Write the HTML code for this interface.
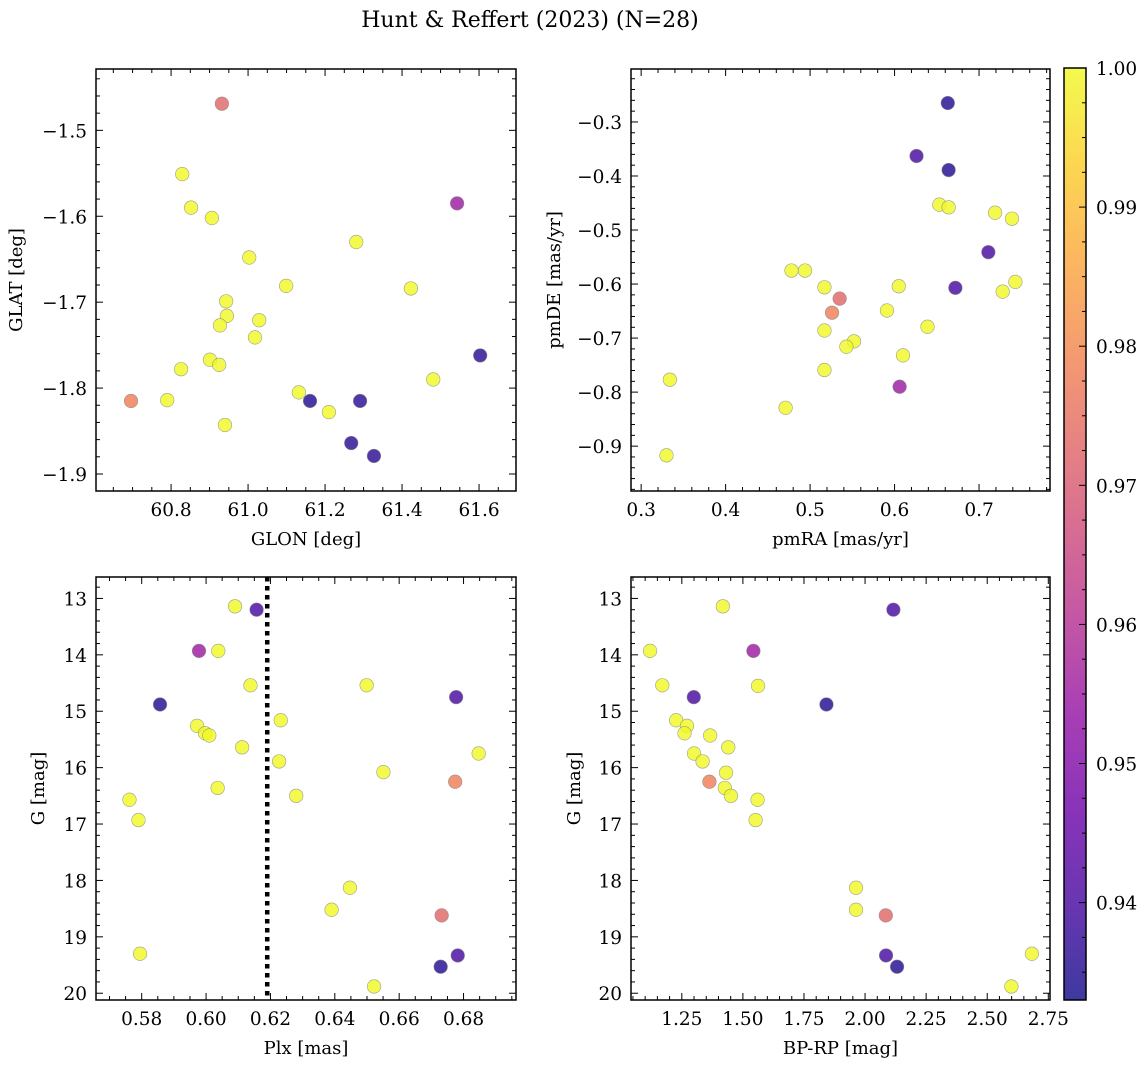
<!DOCTYPE html>
<html><head><meta charset="utf-8"><style>
html,body{margin:0;padding:0;background:#fff;}
svg{display:block;font-family:"DejaVu Serif","Liberation Serif",serif;}
</style></head><body>
<svg id="fig" width="1148" height="1068" viewBox="0 0 1148 1068" xmlns="http://www.w3.org/2000/svg">
<text x="530" y="27" font-size="22" text-anchor="middle">Hunt &amp; Reffert (2023) (N=28)</text>
</svg>
<script>
// Panel 1: GLON vs GLAT
const glon = [60.932,60.829,60.852,60.906,61.003,61.281,61.543,61.099,61.423,60.943,60.945,61.029,60.927,61.018,61.603,60.901,60.925,60.826,61.481,60.696,60.790,61.132,61.161,61.291,61.210,60.940,61.268,61.327];
const glat = [-1.469,-1.551,-1.590,-1.602,-1.648,-1.630,-1.585,-1.681,-1.684,-1.699,-1.716,-1.721,-1.727,-1.741,-1.762,-1.767,-1.773,-1.778,-1.790,-1.815,-1.814,-1.805,-1.815,-1.815,-1.828,-1.843,-1.864,-1.879];
const prob1 = [0.973,1,1,1,1,1,0.955,1,1,1,1,1,1,1,0.936,1,1,1,1,0.978,1,1,0.935,0.936,1,1,0.936,0.936];
// Panel 2: pmRA vs pmDE
const pmra = [0.663,0.626,0.664,0.653,0.664,0.719,0.739,0.711,0.672,0.743,0.728,0.605,0.478,0.494,0.517,0.535,0.526,0.591,0.517,0.552,0.543,0.639,0.610,0.517,0.606,0.334,0.471,0.330];
const pmde = [-0.265,-0.363,-0.389,-0.453,-0.458,-0.468,-0.479,-0.541,-0.607,-0.596,-0.614,-0.604,-0.575,-0.575,-0.606,-0.627,-0.653,-0.649,-0.686,-0.706,-0.716,-0.679,-0.732,-0.759,-0.790,-0.777,-0.829,-0.917];
const prob2 = [0.935,0.94,0.935,1,1,1,1,0.94,0.94,1,1,1,1,1,1,0.973,0.978,1,1,1,1,1,1,1,0.955,1,1,1];
// Panel 3: Plx vs G
const plx = [0.6090,0.6157,0.5978,0.6038,0.6138,0.6499,0.6777,0.5857,0.6232,0.5972,0.5997,0.6010,0.6112,0.6847,0.6227,0.6551,0.6774,0.6036,0.6280,0.5762,0.5790,0.6447,0.6390,0.6732,0.5795,0.6782,0.6729,0.6522];
const gmag3 = [13.14,13.20,13.93,13.93,14.54,14.54,14.75,14.88,15.16,15.26,15.39,15.43,15.64,15.75,15.89,16.08,16.25,16.36,16.50,16.57,16.93,18.13,18.52,18.62,19.30,19.33,19.53,19.88];
const prob3 = [1,0.94,0.955,1,1,1,0.94,0.935,1,1,1,1,1,1,1,1,0.978,1,1,1,1,1,1,0.973,1,0.94,0.935,1];
const plxCut = [0.619];
// Panel 4: BP-RP vs G
const bprp = [1.418,2.116,1.120,1.543,1.170,1.562,1.299,1.842,1.227,1.271,1.261,1.366,1.440,1.300,1.335,1.431,1.363,1.426,1.451,1.560,1.552,1.963,1.963,2.085,2.683,2.086,2.131,2.599];
const gmag4 = [13.14,13.20,13.93,13.93,14.54,14.55,14.75,14.88,15.16,15.26,15.39,15.43,15.64,15.75,15.89,16.09,16.25,16.36,16.50,16.57,16.93,18.13,18.52,18.62,19.30,19.33,19.53,19.88];
const prob4 = [1,0.94,1,0.955,1,1,0.94,0.935,1,1,1,1,1,1,1,1,0.978,1,1,1,1,1,1,0.973,1,0.94,0.935,1];
// Tick labels
const ticks1x = [60.8,61.0,61.2,61.4,61.6];
const ticks1y = [-1.5,-1.6,-1.7,-1.8,-1.9];
const ticks2x = [0.3,0.4,0.5,0.6,0.7];
const ticks2y = [-0.3,-0.4,-0.5,-0.6,-0.7,-0.8,-0.9];
const ticks3x = [0.58,0.60,0.62,0.64,0.66,0.68];
const ticksG = [13,14,15,16,17,18,19,20];
const ticks4x = [1.25,1.50,1.75,2.00,2.25,2.50,2.75];
const ticksCb = [1.00,0.99,0.98,0.97,0.96,0.95,0.94];

const NS = "http://www.w3.org/2000/svg";
const svg = document.getElementById('fig');
function mk(tag, attrs, parent){ const e=document.createElementNS(NS,tag); for(const k in attrs) e.setAttribute(k,attrs[k]); (parent||svg).appendChild(e); return e; }

const plasmaHex = ['#0d0887','#41049d','#6a00a8','#8f0da4','#b12a90','#cc4778','#e16462','#f2844b','#fca636','#fcce25','#f0f921'];
const plasmaRGB = plasmaHex.map(h=>[parseInt(h.slice(1,3),16),parseInt(h.slice(3,5),16),parseInt(h.slice(5,7),16)]);
function plasma(t){ t=Math.max(0,Math.min(1,t)); const f=t*10; const i=Math.min(9,Math.floor(f)); const r=f-i; const a=plasmaRGB[i], b=plasmaRGB[i+1];
  return `rgb(${Math.round(a[0]+r*(b[0]-a[0]))},${Math.round(a[1]+r*(b[1]-a[1]))},${Math.round(a[2]+r*(b[2]-a[2]))})`; }
const cmin=0.933, cmax=1.0;
const cnorm = v => (v-cmin)/(cmax-cmin);

function fmt(v,d){ const s=Math.abs(v).toFixed(d); return (v<0?'\u2212':'')+s; }
const TF=18.5, LF=18;

function panel(o){
  const {name,L,R,T,B,xmin,xmax,ymin,ymax,xt,yt,xd,yd,xminor,yminor,xlabel,ylabel,xs,ys,ps,invert,ylabX} = o;
  const g = mk('g',{});
  
  
  const X = v => L + (v-xmin)/(xmax-xmin)*(R-L);
  const Y = invert ? (v => T + (v-ymin)/(ymax-ymin)*(B-T)) : (v => B - (v-ymin)/(ymax-ymin)*(B-T));
  const tg = mk('g',{stroke:'#000','stroke-width':1},g);
  
  
  const eps=1e-9;
  const x0=Math.ceil(xmin/xminor-eps), x1=Math.floor(xmax/xminor+eps);
  for(let i=x0;i<=x1;i++){ const v=i*xminor; const major=xt.some(t=>Math.abs(t-v)<xminor*0.1); const len=major?7:4; const px=X(v);
    mk('line',{x1:px,y1:B,x2:px,y2:B-len},tg); mk('line',{x1:px,y1:T,x2:px,y2:T+len},tg); }
  const lo=Math.min(ymin,ymax), hi=Math.max(ymin,ymax);
  const y0=Math.ceil(lo/yminor-eps), y1=Math.floor(hi/yminor+eps);
  for(let i=y0;i<=y1;i++){ const v=i*yminor; const major=yt.some(t=>Math.abs(t-v)<yminor*0.1); const len=major?7:4; const py=Y(v);
    mk('line',{x1:L,y1:py,x2:L+len,y2:py},tg); mk('line',{x1:R,y1:py,x2:R-len,y2:py},tg); }
  xt.forEach(v=>{ const t=mk('text',{x:X(v),y:B+25,'font-size':TF,'text-anchor':'middle'},g); t.textContent=fmt(v,xd);
    
     });
  yt.forEach(v=>{ const t=mk('text',{x:L-9,y:Y(v)+7,'font-size':TF,'text-anchor':'end'},g); t.textContent=fmt(v,yd);
    
     });
  const xl=mk('text',{x:(L+R)/2,y:B+54,'font-size':LF,'text-anchor':'middle'},g); xl.textContent=xlabel;
  
  
  const ym=(T+B)/2;
  const yl=mk('text',{x:ylabX,y:ym,'font-size':LF,'text-anchor':'middle',transform:`rotate(-90 ${ylabX} ${ym})`},g); yl.textContent=ylabel;
  
  
  if(o.vline){ const ln=mk('line',{x1:X(o.vline[0]),x2:X(o.vline[0]),y1:T,y2:B,stroke:'#000','stroke-width':4.5,'stroke-dasharray':'4.5 4.5'},g);
    
     }
  const pg=mk('g',{},g);
  xs.forEach((xv,i)=>{ const c=mk('circle',{cx:X(xv),cy:Y(ys[i]),r:6.8,fill:plasma(cnorm(ps[i])),'fill-opacity':0.8,stroke:'#888','stroke-opacity':0.8,'stroke-width':0.6},pg);
    
     });
  const fr=mk('rect',{x:L,y:T,width:R-L,height:B-T,fill:'none',stroke:'#000','stroke-width':1.5},g);
  
  
}

panel({name:'glon-glat-panel',L:96,R:516,T:69,B:491,xmin:60.605,xmax:61.696,ymin:-1.9198,ymax:-1.4286,xt:ticks1x,yt:ticks1y,xd:1,yd:1,xminor:0.05,yminor:0.02,xlabel:'GLON [deg]',ylabel:'GLAT [deg]',xs:glon,ys:glat,ps:prob1,ylabX:22});
panel({name:'pm-panel',L:631,R:1050,T:69,B:491,xmin:0.288,xmax:0.784,ymin:-0.983,ymax:-0.202,xt:ticks2x,yt:ticks2y,xd:1,yd:1,xminor:0.02,yminor:0.02,xlabel:'pmRA [mas/yr]',ylabel:'pmDE [mas/yr]',xs:pmra,ys:pmde,ps:prob2,ylabX:560});
panel({name:'plx-g-panel',L:96,R:516,T:577,B:1000,xmin:0.5658,xmax:0.6963,ymin:12.62,ymax:20.12,invert:true,xt:ticks3x,yt:ticksG,xd:2,yd:0,xminor:0.005,yminor:0.2,xlabel:'Plx [mas]',ylabel:'G [mag]',xs:plx,ys:gmag3,ps:prob3,ylabX:44,vline:plxCut});
panel({name:'cmd-panel',L:631,R:1050,T:577,B:1000,xmin:1.042,xmax:2.757,ymin:12.62,ymax:20.12,invert:true,xt:ticks4x,yt:ticksG,xd:2,yd:0,xminor:0.05,yminor:0.2,xlabel:'BP-RP [mag]',ylabel:'G [mag]',xs:bprp,ys:gmag4,ps:prob4,ylabX:580});

// Colorbar
(function(){
  const L=1064,R=1086,T=68,B=1000;
  const g=mk('g',{});
  
  
  const defs=mk('defs',{},g);
  const lg=mk('linearGradient',{id:'cbg',x1:0,y1:1,x2:0,y2:0},defs);
  for(let i=0;i<=40;i++){ mk('stop',{offset:i/40,'stop-color':plasma(i/40),'stop-opacity':0.8},lg); }
  mk('rect',{x:L,y:T,width:R-L,height:B-T,fill:'url(#cbg)'},g);
  const Y=v=>B-(v-cmin)/(cmax-cmin)*(B-T);
  for(let v=0.9350;v<=1.00001;v+=0.0025){ const major=Math.abs(v*100-Math.round(v*100))<1e-6; mk('line',{x1:R,x2:R-(major?7:4),y1:Y(v),y2:Y(v),stroke:'#000','stroke-width':1},g); }
  ticksCb.forEach(v=>{ const t=mk('text',{x:R+10,y:Y(v)+7,'font-size':TF},g); t.textContent=v.toFixed(2);
    
     });
  mk('rect',{x:L,y:T,width:R-L,height:B-T,fill:'none',stroke:'#000','stroke-width':1.5},g);
})();
</script>
</body></html>
